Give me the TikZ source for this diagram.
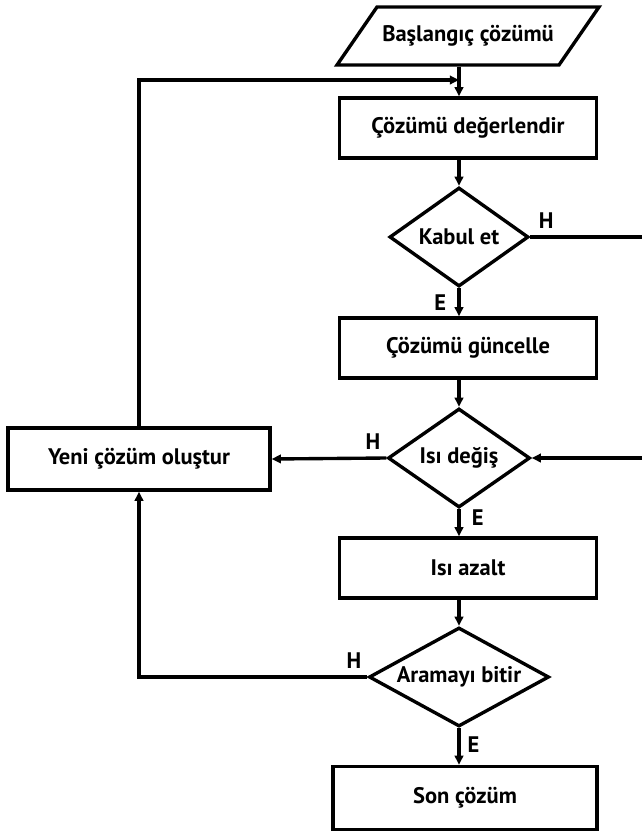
\documentclass[tikz,border=0pt]{standalone}
\usepackage{fontspec}
\setmainfont{PT Sans}
\usepackage{tikz}
\usetikzlibrary{shapes.geometric,arrows.meta,calc,positioning}

\begin{document}
\begin{tikzpicture}[x=0.025cm,y=-0.025cm,
  line width=2.4pt,
  yazi/.style = {font=\bfseries\fontsize{16}{18}\selectfont},
  box/.style = {draw, rectangle, yazi, minimum width=6.425cm, minimum height=1.5cm},
  karar/.style = {draw, diamond, yazi, inner sep=0pt, shape aspect=1.6,
    minimum height=2.475cm},
  lbl/.style = {yazi, inner sep=2pt},
  arr/.style = {-{Triangle[length=6.5pt,width=6pt]}}]
\useasboundingbox (0,0) rectangle (642,831);
\clip (0,0) rectangle (642,831);
\node[yazi, minimum height=1.45cm] (start) at (468,36) {Başlangıç çözümü};
\draw[line join=miter] (start.center) ++(-131,29) -- ++(222,0) -- ++(40,-58)
  -- ++(-222,0) -- cycle;
\node[box] (eval) at (468,128) {Çözümü değerlendir};
\node[karar, minimum width=3.475cm] (accept) at (459,237) {Kabul et};
\node[box] (update) at (468,348) {Çözümü güncelle};
\node[karar, minimum width=3.55cm] (temp) at (459,458) {Isı değiş};
\node[box, minimum width=6.55cm, minimum height=1.55cm] (newsol) at (139,459) {Yeni çözüm oluştur};
\node[box] (cool) at (468,568) {Isı azalt};
\node[karar, minimum width=4.5cm, shape aspect=2.1] (stop) at (459,677) {Aramayı bitir};
\node[box, minimum width=6.6cm, minimum height=1.575cm] (final) at (465,798) {Son çözüm};
\coordinate (join) at (459,80);
\coordinate (outside) at (670,0);
% ana akis
\draw[arr] (start.south -| join) -- (eval.north -| join);
\draw[arr] (eval.south -| accept) -- (accept.north);
\draw[arr] (accept.south) -- node[lbl, left=6pt] {E} (update.north -| accept);
\draw[arr] (update.south -| temp) -- (temp.north);
\draw[arr] (temp.south) -- node[lbl, right=6pt, pos=0.3] {E} (cool.north -| temp);
\draw[arr] (cool.south -| stop) -- (stop.north);
\draw[arr] (stop.south) -- node[lbl, right=3pt, pos=0.45] {E} (final.north -| stop);
% geri donusler
\draw[arr] (newsol.north) |- (join);
\draw[arr] (temp.west) node[lbl, above left=3pt and 1pt] {H} -- (newsol.east);
\draw[arr] (stop.west) node[lbl, above left=3pt and 1pt] {H} -| (newsol.south);
\draw[arr] (accept.east) node[lbl, above right=3pt and 3pt] {H} -- (accept.east -| outside) |- (temp.east);
\end{tikzpicture}
\end{document}
